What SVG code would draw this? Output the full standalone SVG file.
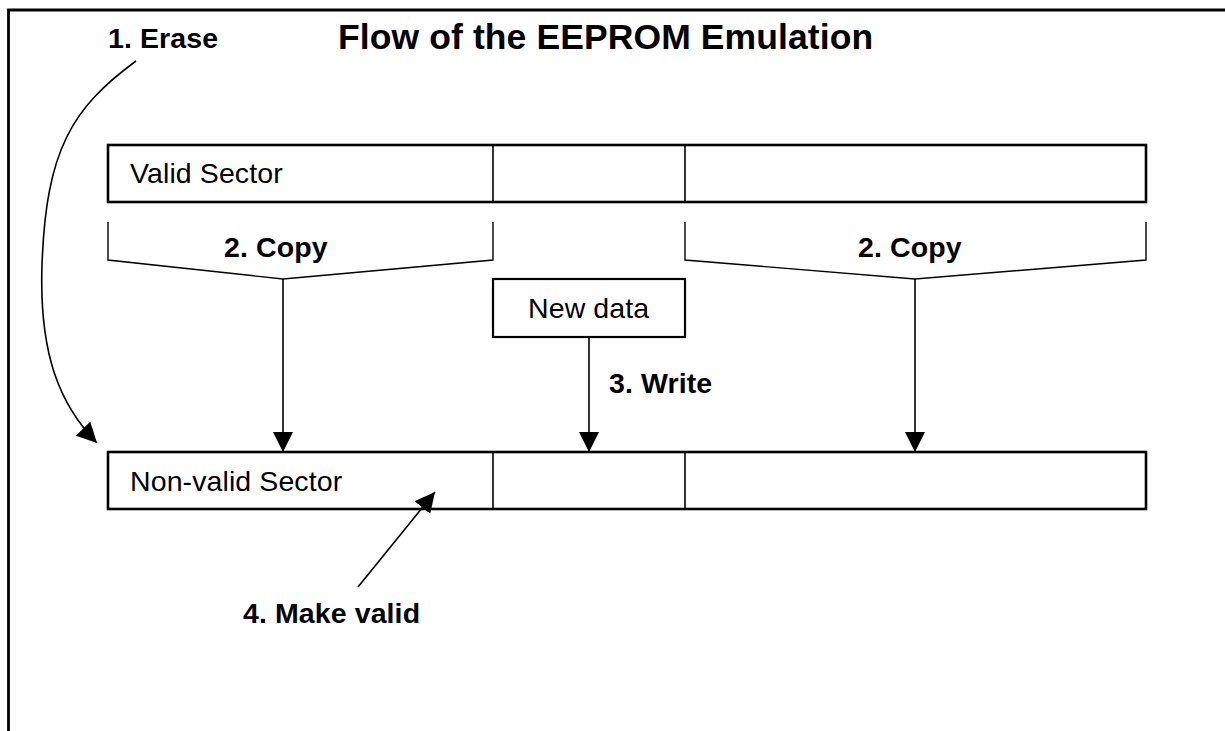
<svg xmlns="http://www.w3.org/2000/svg" width="1225" height="731" viewBox="0 0 1225 731">
<style>
text{font-family:"Liberation Sans",Arial,sans-serif;fill:#000;font-size:28.5px;letter-spacing:0.1px}
.b{font-weight:bold}
.title{font-size:35.5px;letter-spacing:0.1px}
.box{fill:#fff;stroke:#000;stroke-width:2.6}
.div{stroke:#000;stroke-width:1.6;fill:none}
.br{stroke:#000;stroke-width:1.4;fill:none}
.ln{stroke:#000;stroke-width:1.6;fill:none}
</style>
<defs>
<marker id="ah" viewBox="0 0 20 20" refX="20" refY="10" markerWidth="20" markerHeight="20" markerUnits="userSpaceOnUse" orient="auto">
<path d="M0,0 L20,10 L0,20 Z" fill="#000"/>
</marker>
</defs>
<rect width="1225" height="731" fill="#fff"/>
<g id="frame">
<path d="M8.5,731 V10 H1225" fill="none" stroke="#000" stroke-width="2.8"/>
</g>
<g id="title"><text class="b title" x="338" y="49">Flow of the EEPROM Emulation</text></g>
<g id="valid-sector">
<rect class="box" x="108" y="145" width="1038" height="57"/>
<line class="div" x1="493" y1="145" x2="493" y2="202"/>
<line class="div" x1="685" y1="145" x2="685" y2="202"/>
<text x="130" y="183">Valid Sector</text>
</g>
<g id="non-valid-sector">
<rect class="box" x="108" y="452" width="1038" height="57"/>
<line class="div" x1="493" y1="452" x2="493" y2="509"/>
<line class="div" x1="685" y1="452" x2="685" y2="509"/>
<text x="130" y="491">Non-valid Sector</text>
</g>
<g id="new-data">
<rect x="493" y="279" width="192" height="58" fill="#fff" stroke="#000" stroke-width="2.2"/>
<text x="528" y="318">New data</text>
</g>
<g id="connectors">
<path class="br" d="M108,222 V260 L283,279 L493,260 V222"/>
<path class="br" d="M685,222 V260 L915,279 L1146,260 V222"/>
<line class="ln" x1="283" y1="279" x2="283" y2="452" marker-end="url(#ah)"/>
<line class="ln" x1="915" y1="279" x2="915" y2="452" marker-end="url(#ah)"/>
<line class="ln" x1="589" y1="337" x2="589" y2="452" marker-end="url(#ah)"/>
<path class="ln" d="M136,61 C72,108 46,150 42,265 C39,355 60,405 97,443" marker-end="url(#ah)"/>
<line class="ln" x1="358" y1="587" x2="435" y2="492" marker-end="url(#ah)"/>
</g>
<g id="labels">
<text class="b" x="108" y="48">1. Erase</text>
<text class="b" x="224" y="257">2. Copy</text>
<text class="b" x="858" y="257">2. Copy</text>
<text class="b" x="609" y="393">3. Write</text>
<text class="b" x="243" y="623">4. Make valid</text>
</g>
</svg>
